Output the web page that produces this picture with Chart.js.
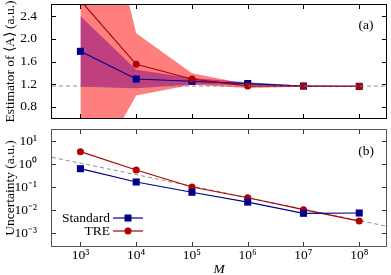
<!DOCTYPE html>
<html>
<head>
<meta charset="utf-8">
<script src="https://cdn.jsdelivr.net/npm/chart.js@4.4.1/dist/chart.umd.min.js"></script>
<style>
  html, body { margin: 0; padding: 0; background: #fff; }
  #wrap { position: relative; width: 391px; height: 275px; overflow: hidden; }
  #estimatorChart { position: absolute; left: 0; top: 0; }
  #uncertaintyChart { position: absolute; left: 0; top: 125px; }
</style>
</head>
<body>
<div id="wrap">
  <canvas id="estimatorChart" width="391" height="125"></canvas>
  <canvas id="uncertaintyChart" width="391" height="150"></canvas>
</div>
<script>
// values
const mValues = [1e3, 1e4, 1e5, 1e6, 1e7, 1e8];
const standardEstimate = [1.78, 1.29, 1.25, 1.21, 1.165, 1.16];
const treEstimate = [2.68, 1.55, 1.29, 1.165, 1.165, 1.16];
const standardUncertainty = [0.625, 0.165, 0.059, 0.022, 0.0072, 0.0074];
const treUncertainty = [3.43, 0.55, 0.1, 0.034, 0.0103, 0.0033];
const exactValue = 1.165;
const guideM = [10 ** 2.49, 10 ** 8.48];
const guideUncertainty = [1.95, 0.002];
const estimatorTicks = [0.8, 1.2, 1.6, 2.0, 2.4];
const uncertaintyTicks = [1e-3, 1e-2, 1e-1, 1, 10];

const SERIF = "'Liberation Serif', 'Times New Roman', serif";
const FONT = { family: SERIF, size: 13.5 };
const BLUE = "#00008c";
const RED = "#b00000";
const SUP = { "0": "⁰", "1": "¹", "2": "²", "3": "³", "4": "⁴", "5": "⁵", "6": "⁶", "7": "⁷", "8": "⁸", "9": "⁹", "-": "⁻" };

function powerLabel(v) {
  const e = Math.round(Math.log10(v));
  return "10" + String(e).split("").map((c) => SUP[c]).join("");
}

function points(xs, ys) {
  return xs.map((x, i) => ({ x: x, y: ys[i] }));
}

function shifted(ys, errs, sign) {
  return ys.map((y, i) => y + sign * errs[i]);
}

function fixWidth(w) {
  return (scale) => {
    scale.width = w;
    scale.paddingTop = 0;
    scale.paddingBottom = 0;
  };
}

function fixHeight(h) {
  return (scale) => {
    scale.height = h;
    scale.paddingLeft = 0;
    scale.paddingRight = 0;
  };
}

function setTicks(values) {
  return (scale) => {
    scale.ticks = values.map((v) => ({ value: v }));
  };
}

// frame with inward ticks on all four sides
const framePlugin = {
  id: "frame",
  afterDatasetsDraw(chart, args, opts) {
    const { ctx, chartArea: a, scales } = chart;
    const tl = 4;
    ctx.save();
    ctx.strokeStyle = opts.color || "#000";
    ctx.lineWidth = 1;
    ctx.beginPath();
    scales.x.ticks.forEach((t) => {
      const px = Math.round(scales.x.getPixelForValue(t.value)) + 0.5;
      ctx.moveTo(px, a.top);
      ctx.lineTo(px, a.top + tl);
      ctx.moveTo(px, a.bottom);
      ctx.lineTo(px, a.bottom - tl);
    });
    scales.y.ticks.forEach((t) => {
      const py = Math.round(scales.y.getPixelForValue(t.value)) + 0.5;
      ctx.moveTo(a.left, py);
      ctx.lineTo(a.left + tl, py);
      ctx.moveTo(a.right, py);
      ctx.lineTo(a.right - tl, py);
    });
    ctx.stroke();
    ctx.strokeStyle = opts.border || "#000";
    ctx.strokeRect(a.left - 0.5, a.top - 0.5, a.width + 1, a.height + 1);
    if (opts.label) {
      ctx.fillStyle = "#000";
      ctx.font = FONT.size + "px " + SERIF;
      ctx.textAlign = "center";
      ctx.textBaseline = "middle";
      ctx.fillText(opts.label, a.right - 20, a.top + opts.labelOffset);
    }
    ctx.restore();
  },
};

const legendPlugin = {
  id: "sideLegend",
  afterDraw(chart) {
    const ctx = chart.ctx;
    const rows = [
      { text: "Standard", color: BLUE, square: true, y: 93 },
      { text: "TRE", color: RED, square: false, y: 106 },
    ];
    ctx.save();
    ctx.font = FONT.size + "px " + SERIF;
    ctx.textAlign = "right";
    ctx.textBaseline = "middle";
    rows.forEach((r) => {
      ctx.fillStyle = "#000";
      ctx.fillText(r.text, 110, r.y);
      ctx.strokeStyle = r.color;
      ctx.lineWidth = 1.2;
      ctx.beginPath();
      ctx.moveTo(113, r.y);
      ctx.lineTo(143, r.y);
      ctx.stroke();
      ctx.fillStyle = r.color;
      if (r.square) {
        ctx.fillRect(128 - 3.5, r.y - 3.5, 7, 7);
      } else {
        ctx.beginPath();
        ctx.arc(128, r.y, 3.5, 0, Math.PI * 2);
        ctx.fill();
      }
    });
    ctx.restore();
  },
};

const xRange = { min: guideM[0], max: guideM[1] };

function seriesLine(label, ys, color, square, order) {
  return {
    label: label,
    data: points(mValues, ys),
    borderColor: color,
    backgroundColor: color,
    borderWidth: 1.2,
    pointStyle: square ? "rect" : "circle",
    pointRadius: square ? 5 : 3.5,
    pointBorderWidth: 0,
    fill: false,
    order: order,
  };
}

function bandEdge(ys, color, fill, order) {
  return {
    data: points(mValues, ys),
    borderWidth: 0,
    pointRadius: 0,
    backgroundColor: color,
    fill: fill,
    order: order,
  };
}

function guideLine(ys, order) {
  return {
    data: points(guideM, ys),
    borderColor: "rgba(120,120,120,0.85)",
    borderWidth: 1,
    borderDash: [4, 3],
    pointRadius: 0,
    fill: false,
    order: order,
  };
}

// panel (a): estimator with +/- uncertainty bands
new Chart(document.getElementById("estimatorChart"), {
  type: "line",
  data: {
    datasets: [
      bandEdge(shifted(standardEstimate, standardUncertainty, 1), "rgba(0,0,255,0.5)", "+1", 7),
      bandEdge(shifted(standardEstimate, standardUncertainty, -1), "rgba(0,0,255,0.5)", false, 6),
      bandEdge(shifted(treEstimate, treUncertainty, 1), "rgba(255,0,0,0.5)", "+1", 5),
      bandEdge(shifted(treEstimate, treUncertainty, -1), "rgba(255,0,0,0.5)", false, 4),
      seriesLine("Standard", standardEstimate, BLUE, true, 3),
      seriesLine("TRE", treEstimate, RED, false, 2),
      guideLine([exactValue, exactValue], 1),
    ],
  },
  options: {
    responsive: false,
    animation: false,
    events: [],
    layout: { padding: { top: 4, right: 1, left: 0, bottom: 0 } },
    plugins: {
      legend: { display: false },
      tooltip: { enabled: false },
      frame: { label: "(a)", labelOffset: 20 },
    },
    scales: {
      x: {
        type: "logarithmic",
        min: xRange.min,
        max: xRange.max,
        grid: { display: false },
        border: { display: false },
        ticks: { display: false },
        afterBuildTicks: setTicks(mValues),
        afterFit: fixHeight(7),
      },
      y: {
        type: "linear",
        min: 0.6,
        max: 2.6,
        grid: { display: false },
        border: { display: false },
        ticks: {
          font: FONT,
          color: "#000",
          padding: 7,
          callback: (v) => v.toFixed(1),
        },
        afterBuildTicks: setTicks(estimatorTicks),
        afterFit: fixWidth(52),
        title: {
          display: true,
          text: "Estimator of ⟨A⟩ (a.u.)",
          font: FONT,
          color: "#000",
          padding: { top: 2, bottom: 0 },
        },
      },
    },
  },
  plugins: [framePlugin],
});

// panel (b): uncertainty vs M
new Chart(document.getElementById("uncertaintyChart"), {
  type: "line",
  data: {
    datasets: [
      guideLine(guideUncertainty, 3),
      seriesLine("Standard", standardUncertainty, BLUE, true, 1),
      seriesLine("TRE", treUncertainty, RED, false, 2),
    ],
  },
  options: {
    responsive: false,
    animation: false,
    events: [],
    layout: { padding: { top: 5, right: 1, left: 0, bottom: 0 } },
    plugins: {
      legend: { display: false },
      tooltip: { enabled: false },
      frame: { label: "(b)", labelOffset: 21, color: "#333", border: "#555" },
    },
    scales: {
      x: {
        type: "logarithmic",
        min: xRange.min,
        max: xRange.max,
        grid: { display: false },
        border: { display: false },
        ticks: {
          font: FONT,
          color: "#000",
          padding: -7,
          maxRotation: 0,
          autoSkip: false,
          callback: (v) => powerLabel(v),
        },
        afterBuildTicks: setTicks(mValues),
        afterFit: fixHeight(29),
        title: {
          display: true,
          text: "M",
          font: { family: SERIF, size: 13.5, style: "italic", lineHeight: 1 },
          color: "#000",
          padding: { top: 0, bottom: -1 },
        },
      },
      y: {
        type: "logarithmic",
        min: 10 ** -3.565,
        max: 10 ** 1.478,
        grid: { display: false },
        border: { display: false },
        ticks: {
          font: FONT,
          color: "#000",
          padding: 7,
          autoSkip: false,
          callback: (v) => powerLabel(v),
        },
        afterBuildTicks: setTicks(uncertaintyTicks),
        afterFit: fixWidth(52),
        title: {
          display: true,
          text: "Uncertainty (a.u.)",
          font: FONT,
          color: "#000",
          padding: { top: 2, bottom: 0 },
        },
      },
    },
  },
  plugins: [framePlugin, legendPlugin],
});
</script>
</body>
</html>
